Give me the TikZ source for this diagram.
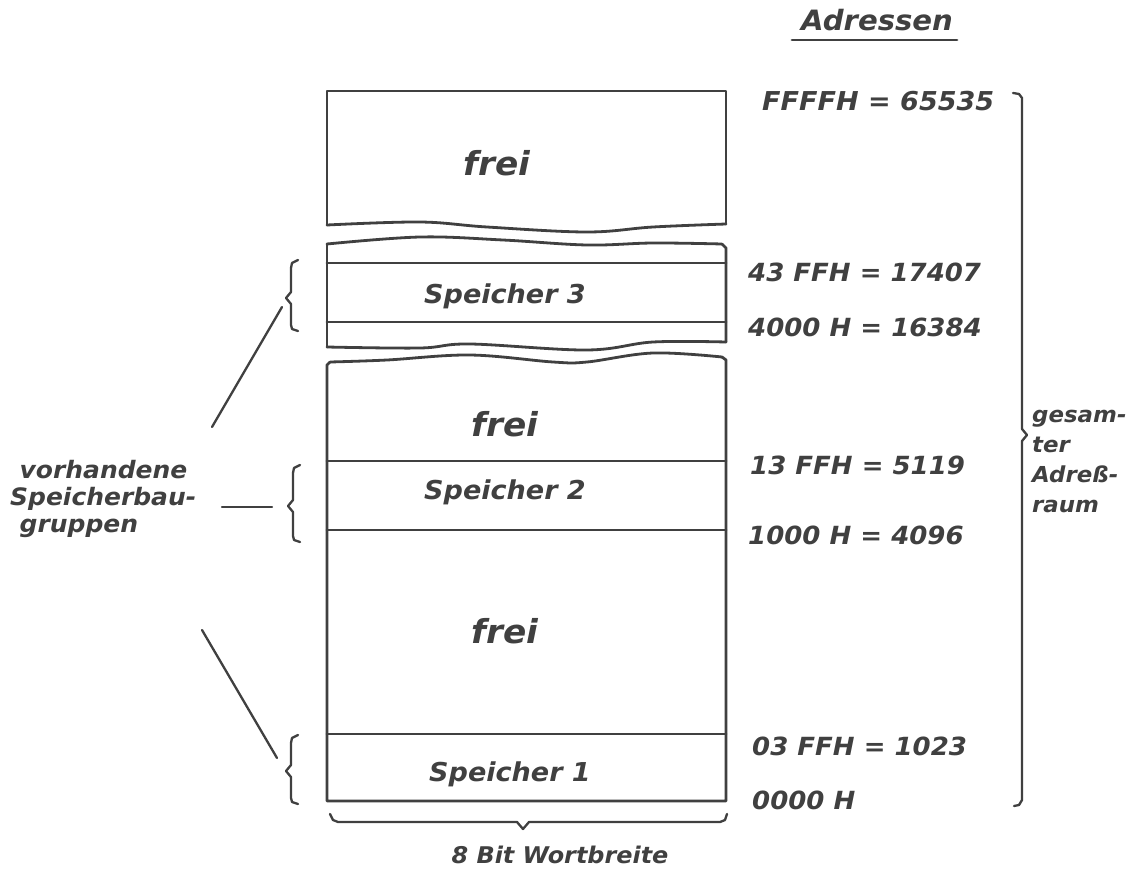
\documentclass[tikz,border=0pt]{standalone}
\usepackage{fontspec}
\newfontfamily\hand[FakeStretch=1.04]{DejaVu Sans}
\definecolor{ink}{HTML}{404040}
\begin{document}
\begin{tikzpicture}[x=1pt,y=-1pt,
  ln/.style={draw=ink,line width=2.8pt,line cap=round,line join=round},
  thin/.style={draw=ink,line width=2.3pt,line cap=round,line join=round},
  lbl/.style={text=ink,font=\hand\bfseries\itshape\fontsize{26}{30}\selectfont,inner sep=0pt},
  big/.style={lbl,font=\hand\bfseries\itshape\fontsize{33}{36}\selectfont},
  adr/.style={lbl,anchor=west,font=\hand\bfseries\itshape\fontsize{25}{30}\selectfont},
  side/.style={lbl,align=left,font=\hand\bfseries\itshape\fontsize{24}{27}\selectfont},
  rside/.style={lbl,align=left,font=\hand\bfseries\itshape\fontsize{22}{30}\selectfont}]
\useasboundingbox[fill=white] (0,0) rectangle (1142,869);

% ---- top block (frei)
\draw[ln] plot[smooth,tension=0.6] coordinates {(327,225)(420,222)(487,227)(587,232)(653,227)(726,224)};
\draw[ln] (327,225) -- (327,91) -- (726,91) -- (726,224);
% ---- middle block (Speicher 3)
\draw[ln] plot[smooth,tension=0.6] coordinates {(327,244)(420,237)(503,240)(587,245)(653,243)(722,244)};
\draw[ln] (327,244) -- (327,347);
\draw[ln] (722,244) -- (726,248) -- (726,342);
\draw[ln] plot[smooth,tension=0.6] coordinates {(327,347)(420,348)(470,344)(587,350)(653,342)(726,342)};
\draw[ln] (327,263) -- (726,263);
\draw[ln] (327,322) -- (726,322);
% ---- lower block
\draw[ln] plot[smooth,tension=0.6] coordinates {(330,362)(387,360)(470,355)(553,362)(587,362)(653,353)(722,357)};
\draw[ln] (330,362) -- (327,365) -- (327,801) -- (726,801) -- (726,360) -- (722,357);
\draw[ln] (327,461) -- (726,461);
\draw[ln] (327,530) -- (726,530);
\draw[ln] (327,734) -- (726,734);

% ---- texts in blocks
\node[big] (f1) at (497,163) {frei};
\node[lbl] (s3) at (505,296) {Speicher 3};
\node[big] (f2) at (505,424) {frei};
\node[lbl] (s2) at (505,492) {Speicher 2};
\node[big] (f3) at (505,631) {frei};
\node[lbl] (s1) at (510,774) {Speicher 1};

% ---- addresses
\node[lbl,font=\hand\bfseries\itshape\fontsize{28}{30}\selectfont] (hd) at (877,20) {Adressen};
\draw[ln] (792,40) -- (957,40);
\node[adr,font=\hand\bfseries\itshape\fontsize{26}{30}\selectfont] (a1) at (762,101) {FFFFH = 65535};
\node[adr] (a2) at (748,272) {43 FFH = 17407};
\node[adr] (a3) at (748,327) {4000 H = 16384};
\node[adr] (a4) at (750,465) {13 FFH = 5119};
\node[adr] (a5) at (748,535) {1000 H = 4096};
\node[adr] (a6) at (752,746) {03 FFH = 1023};
\node[adr] (a7) at (752,800) {0000 H};

% ---- right brace
\draw[thin] (1013,93) -- (1019,94) -- (1022,98) -- (1022,429) -- (1027,435) -- (1022,441) -- (1022,800) -- (1019,805) -- (1014,806);
\node[rside,anchor=north west] (ga) at (1032,410) {gesam-\\ter\\Adreß-\\raum};

% ---- bottom brace
\draw[thin] (330,814) -- (333,820) -- (338,822) -- (517,822) -- (523,829) -- (529,822) -- (720,822) -- (725,820) -- (727,814);
\node[lbl,font=\hand\bfseries\itshape\fontsize{23}{27}\selectfont] (wb) at (560,855) {8 Bit Wortbreite};

% ---- left braces
\draw[thin] (298,260) -- (292,263) -- (291,268) -- (291,292) -- (286,298) -- (291,304) -- (291,325) -- (292,329) -- (298,331);
\draw[thin] (300,465) -- (294,468) -- (293,473) -- (293,500) -- (288,506) -- (293,512) -- (293,536) -- (294,540) -- (300,542);
\draw[thin] (298,735) -- (292,738) -- (291,743) -- (291,765) -- (286,771) -- (291,777) -- (291,798) -- (292,802) -- (298,804);

\coordinate (b3) at (282,307);
\coordinate (b2) at (272,507);
\coordinate (b1) at (277,758);
\node[side,anchor=north west] (vh) at (10,460) {\hphantom{.}vorhandene\\Speicherbau-\\\hphantom{.}gruppen};
\coordinate (l3) at (212,427);
\coordinate (l2) at (222,507);
\coordinate (l1) at (202,630);
\draw[thin] (l3) -- (b3);
\draw[thin] (l2) -- (b2);
\draw[thin] (l1) -- (b1);
\end{tikzpicture}
\end{document}
